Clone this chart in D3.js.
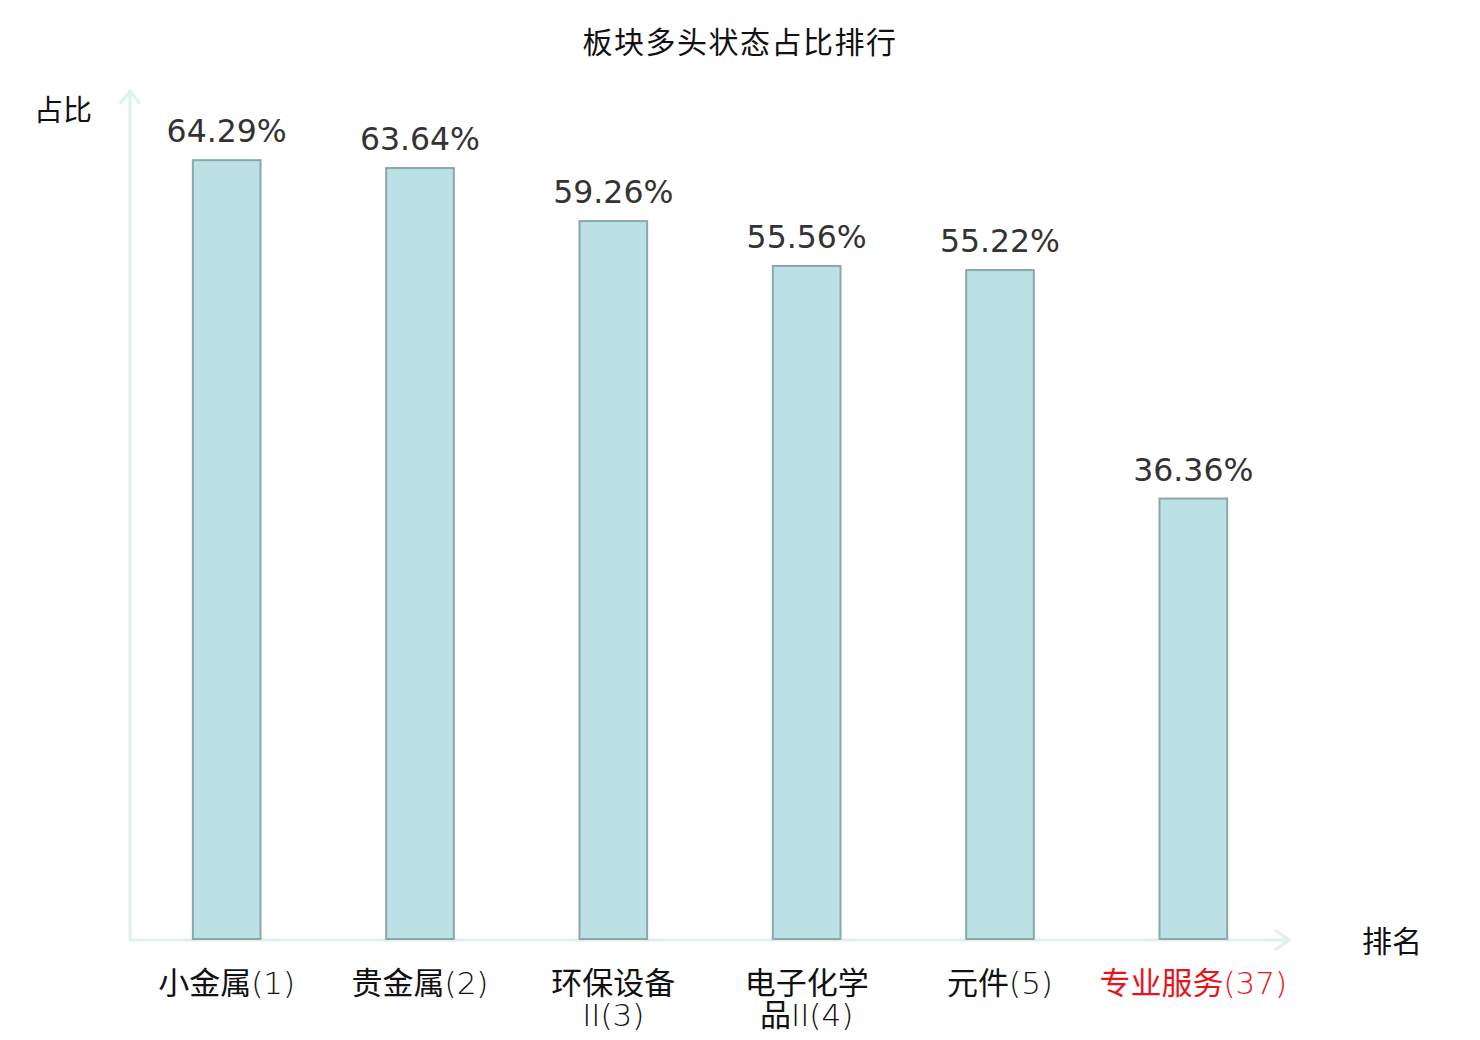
<!DOCTYPE html>
<html>
<head>
<meta charset="utf-8">
<script src="https://cdn.jsdelivr.net/npm/d3@7"></script>
<style>
  body { margin: 0; background: #fff; }
  .cjk { font-family: "Noto Sans CJK SC", sans-serif; }
  .value { font-family: "DejaVu Sans", sans-serif; }
  .label { font-family: "DejaVu Sans ExtraLight", "DejaVu Sans", "Noto Sans CJK SC", sans-serif; font-weight: 200; }
  .label .han { font-family: "Noto Sans CJK SC", sans-serif; font-weight: 400; }
</style>
</head>
<body>
<div id="chart"></div>
<script>
// data
const sectors = ['小金属', '贵金属', '环保设备II', '电子化学品II', '元件', '专业服务']
const ranks = [1, 2, 3, 4, 5, 37]
const ratios = [64.29, 63.64, 59.26, 55.56, 55.22, 36.36]

const width = 1480
const height = 1040

const svg = d3
  .select('#chart')
  .append('svg')
  .attr('width', width)
  .attr('height', height)

const datapoints = sectors.map((d, i) => ({ name: d, rank: ranks[i], value: ratios[i] }))

const xPositionScale = d3
  .scaleBand()
  .domain(sectors)
  .range([130, 1290])
  .paddingInner(0.65)
  .paddingOuter(0.325)

const yPositionScale = d3.scaleLinear().domain([0, 70]).range([939, 91])

const axisColor = '#dff1ef'

// title
svg
  .append('text')
  .attr('class', 'cjk')
  .text('板块多头状态占比排行')
  .attr('x', width / 2)
  .attr('y', 53)
  .attr('text-anchor', 'middle')
  .attr('font-size', 30)
  .attr('letter-spacing', 1.5)
  .attr('fill', '#111')

// axes with arrows
const axes = svg.append('g').attr('stroke', axisColor).attr('stroke-width', 3).attr('fill', 'none')
axes.append('line').attr('x1', 130).attr('y1', 940).attr('x2', 130).attr('y2', 91)
axes.append('path').attr('d', 'M120,104 L130,91 L140,104')
axes.append('line').attr('x1', 129).attr('y1', 940).attr('x2', 1289).attr('y2', 940)
axes.append('path').attr('d', 'M1275,930 L1289,940 L1275,950')

svg
  .append('text')
  .attr('class', 'cjk')
  .text('占比')
  .attr('x', 63)
  .attr('y', 121)
  .attr('text-anchor', 'middle')
  .attr('font-size', 29)
  .attr('fill', '#111')

svg
  .append('text')
  .attr('class', 'cjk')
  .text('排名')
  .attr('x', 1392)
  .attr('y', 952)
  .attr('text-anchor', 'middle')
  .attr('font-size', 30)
  .attr('fill', '#111')

// bars
svg
  .selectAll('.bar')
  .data(datapoints)
  .enter()
  .append('rect')
  .attr('class', 'bar')
  .attr('x', d => xPositionScale(d.name))
  .attr('y', d => yPositionScale(d.value))
  .attr('width', xPositionScale.bandwidth())
  .attr('height', d => yPositionScale(0) - yPositionScale(d.value))
  .attr('fill', '#bce1e4')
  .attr('stroke', '#8aa8a8')
  .attr('stroke-width', 2)

// value labels
svg
  .selectAll('.value')
  .data(datapoints)
  .enter()
  .append('text')
  .attr('class', 'value')
  .text(d => d.value.toFixed(2) + '%')
  .attr('x', d => xPositionScale(d.name) + xPositionScale.bandwidth() / 2)
  .attr('y', d => yPositionScale(d.value) - 18)
  .attr('text-anchor', 'middle')
  .attr('font-size', 31.5)
  .attr('fill', '#333')

// category labels, wrapped after 4 characters
const labels = svg
  .selectAll('.label')
  .data(datapoints)
  .enter()
  .append('text')
  .attr('class', 'label')
  .attr('text-anchor', 'middle')
  .attr('font-size', 31)
  .attr('fill', d => (d.rank > 10 ? '#e8141c' : '#111'))

labels.each(function(d) {
  const full = d.name + '(' + d.rank + ')'
  const lines = d.name.length > 4 ? [full.slice(0, 4), full.slice(4)] : [full]
  const cx = xPositionScale(d.name) + xPositionScale.bandwidth() / 2
  lines.forEach((l, i) => {
    const line = d3
      .select(this)
      .append('tspan')
      .attr('x', cx)
      .attr('y', 994 + i * 32)
    // han characters in the CJK font, the rest in a thin latin face
    const parts = l.match(/[\u4e00-\u9fff]+|[^\u4e00-\u9fff]+/g)
    parts.forEach(p => {
      line
        .append('tspan')
        .attr('class', /[\u4e00-\u9fff]/.test(p) ? 'han' : null)
        .text(p)
    })
  })
})
</script>
</body>
</html>
